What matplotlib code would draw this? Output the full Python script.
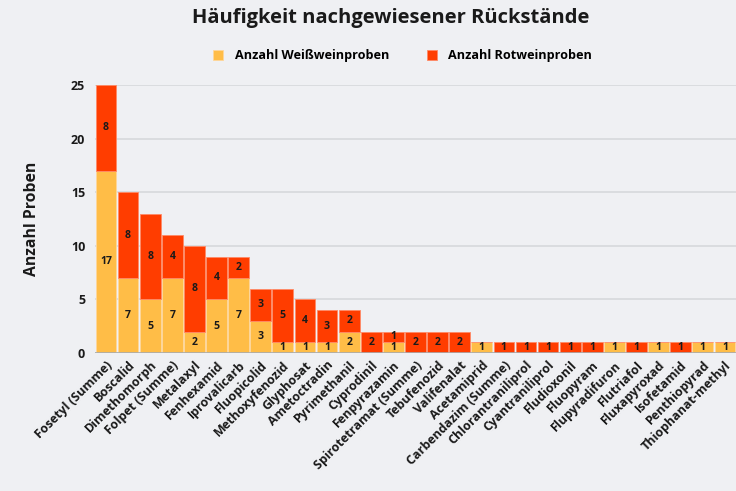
import numpy as np
import matplotlib
matplotlib.use("Agg")
from matplotlib import pyplot as plt

# Daten
wirkstoffe = [
    "Fosetyl (Summe)", "Boscalid", "Dimethomorph", "Folpet (Summe)", "Metalaxyl",
    "Fenhexamid", "Iprovalicarb", "Fluopicolid", "Methoxyfenozid", "Glyphosat",
    "Ametoctradin", "Pyrimethanil", "Cyprodinil", "Fenpyrazamin",
    "Spirotetramat (Summe)", "Tebufenozid", "Valifenalat", "Acetamiprid",
    "Carbendazim (Summe)", "Chlorantraniliprol", "Cyantraniliprol", "Fludioxonil",
    "Fluopyram", "Flupyradifuron", "Flutriafol", "Fluxapyroxad", "Isofetamid",
    "Penthiopyrad", "Thiophanat-methyl",
]
weiss = [17, 7, 5, 7, 2, 5, 7, 3, 1, 1, 1, 2, 0, 1, 0, 0, 0, 1, 0, 0, 0, 0, 0, 1, 0, 1, 0, 1, 1]
rot = [8, 8, 8, 4, 8, 4, 2, 3, 5, 4, 3, 2, 2, 1, 2, 2, 2, 0, 1, 1, 1, 1, 1, 0, 1, 0, 1, 0, 0]
yticks = [0, 5, 10, 15, 20, 25]

bg = "#eff0f3"
gelb = "#ffbd47"
orange = "#ff3d00"

plt.rcParams["font.family"] = ["Open Sans", "DejaVu Sans"]
plt.rcParams["font.weight"] = "bold"

fig = plt.figure(figsize=(7.36, 4.91), dpi=100, facecolor=bg)
ax = fig.add_axes([0.129, 0.281, 0.871, 0.546], facecolor=bg)

x = np.arange(len(wirkstoffe))
b1 = ax.bar(x, weiss, width=0.94, color=gelb, edgecolor="#ffd79a", linewidth=0.6,
            label="Anzahl Weißweinproben", zorder=3)
b2 = ax.bar(x, rot, bottom=weiss, width=0.94, color=orange, edgecolor="#ff8a66",
            linewidth=0.6, label="Anzahl Rotweinproben", zorder=3)

for bars, vals in [(b1, weiss), (b2, rot)]:
    ax.bar_label(bars, labels=[str(v) if v else "" for v in vals], label_type="center",
                 fontsize=7.6, fontweight="bold", color="#1a1a1a")

ax.set_xlim(-0.5, len(wirkstoffe) - 0.5)
ax.set_ylim(0, 25)
ax.set_yticks(yticks)
ax.set_xticks(x)
ax.set_xticklabels(wirkstoffe, rotation=45, ha="right", rotation_mode="anchor",
                   fontsize=9, fontweight="bold", color="#1a1a1a")
ax.tick_params(axis="y", labelsize=9, length=0, pad=7, labelcolor="#1a1a1a")
ax.tick_params(axis="x", length=0, pad=4)
ax.grid(axis="y", color="#d6d8dc", linewidth=1.2, zorder=0)
ax.set_axisbelow(True)
for s in ax.spines.values():
    s.set_visible(False)
ax.axhline(0, color="#a8abb0", linewidth=1.2, zorder=4)

ax.set_ylabel("Anzahl Proben", fontsize=11.3, fontweight="bold", color="#1a1a1a", labelpad=22)

fig.text(0.531, 0.963, "Häufigkeit nachgewiesener Rückstände", ha="center", va="center",
         fontsize=14.5, fontweight="bold", color="#1a1a1a")
fig.legend(handles=[b1, b2], loc="center", bbox_to_anchor=(0.547, 0.886), ncol=2,
           frameon=False, fontsize=9.1, handlelength=0.8, handleheight=0.9,
           columnspacing=3.0, handletextpad=0.9)

plt.savefig("out.png", dpi=100, facecolor=bg)
plt.close()
